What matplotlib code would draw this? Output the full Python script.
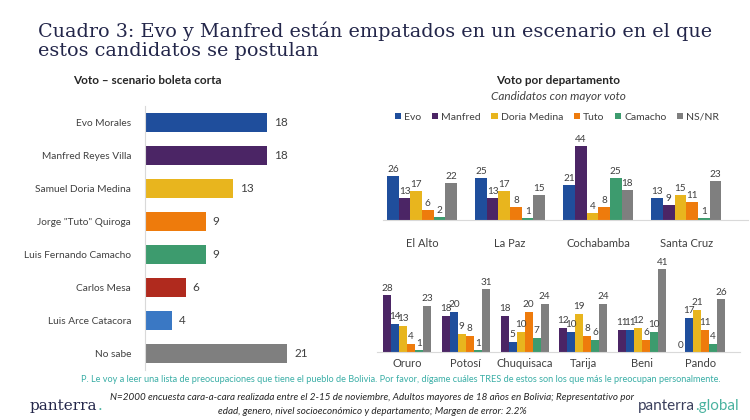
import matplotlib
matplotlib.use("Agg")
import matplotlib.pyplot as plt
import numpy as np

# left chart: vote, short ballot scenario
candidatos = ["Evo Morales", "Manfred Reyes Villa", "Samuel Doria Medina",
              'Jorge "Tuto" Quiroga', "Luis Fernando Camacho", "Carlos Mesa",
              "Luis Arce Catacora", "No sabe"]
votos = [18, 18, 13, 9, 9, 6, 4, 21]
colores_cand = ["#1f4e9c", "#4b2565", "#e8b51e", "#ee7b0c", "#3d9b6e",
                "#b02a1e", "#3a78c4", "#7f7f7f"]

# right chart: vote by department
series = ["Evo", "Manfred", "Doria Medina", "Tuto", "Camacho", "NS/NR"]
colores_series = ["#1f4e9c", "#4b2565", "#e8b51e", "#ee7b0c", "#3d9b6e", "#7f7f7f"]

deptos_arriba = ["El Alto", "La Paz", "Cochabamba", "Santa Cruz"]
valores_arriba = [
    [26, 25, 21, 13],   # Evo
    [13, 13, 44, 9],    # Manfred
    [17, 17, 4, 15],    # Doria Medina
    [6, 8, 8, 11],      # Tuto
    [2, 1, 25, 1],      # Camacho
    [22, 15, 18, 23],   # NS/NR
]

deptos_abajo = ["Oruro", "Potosí", "Chuquisaca", "Tarija", "Beni", "Pando"]
# lower row as drawn in the source: first bar purple, second blue
colores_abajo = ["#4b2565", "#1f4e9c", "#e8b51e", "#ee7b0c", "#3d9b6e", "#7f7f7f"]
valores_abajo = [
    [28, 18, 18, 12, 11, 0],
    [14, 20, 5, 10, 11, 17],
    [13, 9, 10, 19, 12, 21],
    [4, 8, 20, 8, 6, 11],
    [1, 1, 7, 6, 10, 4],
    [23, 31, 24, 24, 41, 26],
]

texto = "#404040"
plt.rcParams["font.family"] = ["Lato", "DejaVu Sans"]

W, H = 750, 420
fig = plt.figure(figsize=(7.5, 4.2), dpi=100)


def rect(x0, y0, x1, y1):
    # pixel box (top-left origin) -> figure fraction
    return [x0 / W, 1 - y1 / H, (x1 - x0) / W, (y1 - y0) / H]


# title
fig.text(38 / W, 1 - 31 / H, "Cuadro 3: Evo y Manfred están empatados en un escenario en el que",
         family="DejaVu Serif", fontsize=13.8, color="#23264a", va="center")
fig.text(38 / W, 1 - 51 / H, "estos candidatos se postulan",
         family="DejaVu Serif", fontsize=13.8, color="#23264a", va="center")

# ---- left horizontal bars
ax1 = fig.add_axes(rect(145, 106, 370, 370))
y = np.arange(len(candidatos))
ax1.barh(y, votos, height=0.58, color=colores_cand)
for yi, v in zip(y, votos):
    ax1.text(v + 1.0, yi, str(v), va="center", ha="left", fontsize=8.5, color=texto)
ax1.set_ylim(len(candidatos) - 0.5, -0.5)
ax1.set_xlim(0, 33.2)
ax1.set_yticks(y)
ax1.set_yticklabels(candidatos, fontsize=7.3, color=texto)
ax1.tick_params(axis="y", length=0, pad=10)
ax1.set_xticks([])
for s in ["top", "right", "bottom"]:
    ax1.spines[s].set_visible(False)
ax1.spines["left"].set_color("#d9d9d9")
fig.text(147 / W, 1 - 80 / H, "Voto – scenario boleta corta", ha="center", va="center",
         fontsize=8.5, fontweight="bold", color="#262626")

# ---- right: vote by department
fig.text(558 / W, 1 - 80 / H, "Voto por departamento", ha="center", va="center",
         fontsize=8.5, fontweight="bold", color="#262626")
fig.text(558 / W, 1 - 96 / H, "Candidatos con mayor voto", ha="center", va="center",
         fontsize=8.5, style="italic", color="#404040")


def agrupado(ax, deptos, valores, colores, bw):
    n = len(valores)
    x = np.arange(len(deptos))
    handles = []
    for i, (vals, c) in enumerate(zip(valores, colores)):
        xs = x + (i - (n - 1) / 2) * bw
        b = ax.bar(xs, vals, width=bw, color=c)
        handles.append(b)
        for xi, v in zip(xs, vals):
            ax.text(xi, v + 1.2, str(v), ha="center", va="bottom", fontsize=7.2, color=texto)
    ax.set_xticks(x)
    ax.set_xticklabels(deptos, fontsize=8, color=texto)
    ax.tick_params(axis="x", length=0)
    ax.set_yticks([])
    for s in ["top", "right", "left"]:
        ax.spines[s].set_visible(False)
    ax.spines["bottom"].set_color("#d9d9d9")
    return handles


ax2 = fig.add_axes(rect(383, 130, 748, 220))
h = agrupado(ax2, deptos_arriba, valores_arriba, colores_series, 0.1326)
ax2.set_xlim(-0.443, 3.70)
ax2.set_ylim(0, 90 / 1.68)
ax2.tick_params(axis="x", pad=13)
fig.legend(h, series, loc="center", bbox_to_anchor=(557 / W, 1 - 117 / H), ncol=6,
           frameon=False, fontsize=7.5, handlelength=0.6, handleheight=0.6,
           handletextpad=0.3, columnspacing=1.0, labelcolor=texto)

ax3 = fig.add_axes(rect(377, 258, 740, 352))
agrupado(ax3, deptos_abajo, valores_abajo, colores_abajo, 8 / 58.8)
ax3.set_xlim((377 - 407) / 58.8, (740 - 407) / 58.8)
ax3.set_ylim(0, 94 / 2.02)
ax3.tick_params(axis="x", pad=4)

# ---- footer
fig.text(401 / W, 1 - 379 / H,
         "P. Le voy a leer una lista de preocupaciones que tiene el pueblo de Bolivia. "
         "Por favor, dígame cuáles TRES de estos son los que más le preocupan personalmente.",
         ha="center", va="center", fontsize=6.6, color="#3aaea6")
t0 = fig.text(30 / W, 1 - 406 / H, "panterra", family="DejaVu Serif", fontsize=11,
              color="#23264a", va="center")
fig.canvas.draw()
b0 = t0.get_window_extent()
fig.text(b0.x1 / fig.bbox.width, 1 - 406 / H, ".", family="DejaVu Serif", fontsize=11,
         color="#4bb3a0", va="center")
fig.text(372 / W, 1 - 398 / H,
         "N=2000 encuesta cara-a-cara realizada entre el 2-15 de noviembre, Adultos mayores de 18 años en Bolivia; Representativo por",
         ha="center", va="center", fontsize=7.1, style="italic", color="#262626")
fig.text(372 / W, 1 - 412 / H,
         "edad, genero, nivel socioeconómico y departamento; Margen de error: 2.2%",
         ha="center", va="center", fontsize=7.1, style="italic", color="#262626")
t = fig.text(638 / W, 1 - 406 / H, "panterra", fontsize=11, color="#3a3f5c", va="center")
fig.canvas.draw()
bb = t.get_window_extent()
fig.text(bb.x1 / fig.bbox.width, 1 - 406 / H, ".global", fontsize=11,
         color="#4bb3a0", va="center")

fig.savefig("out.png", dpi=100)
